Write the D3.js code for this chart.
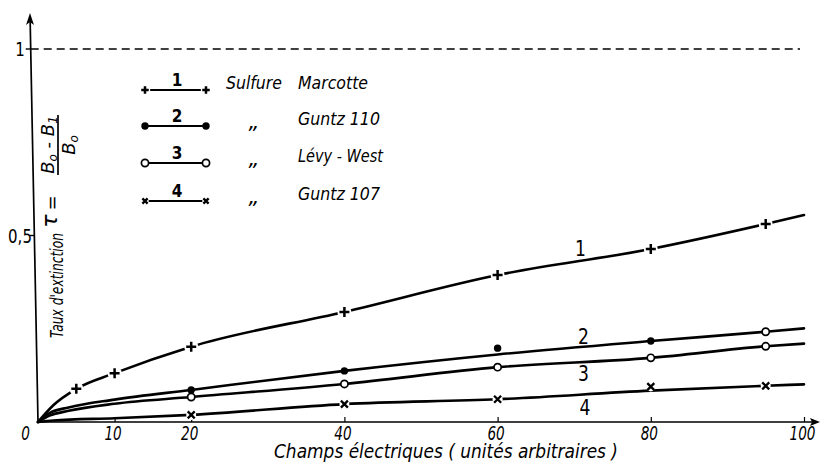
<!DOCTYPE html>
<html>
<head>
<meta charset="utf-8">
<script src="https://cdn.jsdelivr.net/npm/d3@7"></script>
<style>
  html, body { margin: 0; padding: 0; background: #fff; }
  svg { display: block; }
  text { fill: #000; font-family: "DejaVu Sans", sans-serif; }
</style>
</head>
<body>
<svg id="chart" width="824" height="462"></svg>
<script>
// ---- data ----
const xTicks = [0, 10, 20, 40, 60, 80, 100];
const yTicks = [0.5, 1];
const yTickLabels = ["0,5", "1"];

// drawn curves (x in arbitrary units, y = extinction rate)
const curve1X = [0, 2, 5, 10, 20, 40, 60, 80, 95, 100];
const curve1Y = [0, 0.045, 0.089, 0.131, 0.202, 0.295, 0.394, 0.464, 0.531, 0.555];
const curve2X = [0, 1.5, 4, 10, 20, 40, 60, 80, 95, 100];
const curve2Y = [0, 0.024, 0.039, 0.060, 0.086, 0.137, 0.181, 0.217, 0.242, 0.251];
const curve3X = [0, 1.5, 4, 10, 20, 40, 60, 80, 95, 100];
const curve3Y = [0, 0.017, 0.030, 0.049, 0.067, 0.102, 0.147, 0.172, 0.203, 0.210];
const curve4X = [0, 2, 10, 20, 40, 60, 80, 95, 100];
const curve4Y = [0, 0.004, 0.010, 0.019, 0.048, 0.061, 0.084, 0.097, 0.101];

// measured points
const pts1X = [5, 10, 20, 40, 60, 80, 95];
const pts1Y = [0.089, 0.131, 0.202, 0.295, 0.394, 0.464, 0.531];
const pts2X = [20, 40, 60, 80, 95];
const pts2Y = [0.086, 0.137, 0.198, 0.217, 0.242];
const pts2Shape = ["dot", "dot", "dot", "dot", "circle"];
const pts3X = [20, 40, 60, 80, 95];
const pts3Y = [0.067, 0.102, 0.147, 0.172, 0.203];
const pts4X = [20, 40, 60, 80, 95];
const pts4Y = [0.019, 0.048, 0.061, 0.095, 0.097];

const curveLabels = ["1", "2", "3", "4"];
const curveLabelX = [70.8, 71.2, 71.2, 71.4];
const curveLabelY = [0.466, 0.231, 0.131, 0.040];

const legendNums = ["1", "2", "3", "4"];
const legendShapes = ["plus", "dot", "circle", "cross"];
const legendDitto = ["", "„", "„", "„"];
const legendFirst = ["Sulfure", "", "", ""];
const legendNames = ["Marcotte", "Guntz  110", "Lévy - West", "Guntz  107"];

const xTitle = "Champs électriques  ( unités arbitraires )";
const yTitle = "Taux  d'extinction";

// ---- drawing ----
const svg = d3.select("#chart");
const x = d3.scaleLinear().domain([0, 100]).range([38, 804]);
const y = d3.scaleLinear().domain([0, 1]).range([422, 49]);

function label(parent, str, o) {
  const t = parent.append("text")
    .attr("transform", `translate(${o.x},${o.y}) rotate(${o.r || 0}) scale(${o.sx || 1},1)`)
    .attr("font-size", o.size || 17)
    .attr("text-anchor", o.anchor || "start")
    .text(str);
  if (o.italic) t.attr("font-style", "italic");
  if (o.bold) t.attr("font-weight", "bold");
  if (o.len) t.attr("textLength", o.len).attr("lengthAdjust", "spacingAndGlyphs");
  return t;
}

function marker(g, shape, cx, cy, s) {
  s = s || 1;
  if (shape === "plus") {
    g.append("circle").attr("cx", cx).attr("cy", cy).attr("r", 7 * s).attr("fill", "#fff");
    g.append("path").attr("d", `M${cx - 5 * s},${cy}H${cx + 5 * s}M${cx},${cy - 5 * s}V${cy + 5 * s}`)
      .attr("stroke", "#000").attr("stroke-width", 2.5);
  } else if (shape === "cross") {
    g.append("circle").attr("cx", cx).attr("cy", cy).attr("r", 5 * s).attr("fill", "#fff");
    g.append("path").attr("d", `M${cx - 3.5 * s},${cy - 3.5 * s}L${cx + 3.5 * s},${cy + 3.5 * s}M${cx - 3.5 * s},${cy + 3.5 * s}L${cx + 3.5 * s},${cy - 3.5 * s}`)
      .attr("stroke", "#000").attr("stroke-width", 2.3);
  } else if (shape === "dot") {
    g.append("circle").attr("cx", cx).attr("cy", cy).attr("r", 3.7).attr("fill", "#000");
  } else if (shape === "circle") {
    g.append("circle").attr("cx", cx).attr("cy", cy).attr("r", 3.6)
      .attr("fill", "#fff").attr("stroke", "#000").attr("stroke-width", 1.7);
  }
}

// y axis geometry (slightly slanted, as in the print)
const topY = 13, lean = 8;
const axX = v => x(0) - lean * (y(0) - v) / (y(0) - topY);

// dashed line at 1
svg.append("line")
  .attr("x1", axX(y(1))).attr("x2", x(100) - 4)
  .attr("y1", y(1)).attr("y2", y(1))
  .attr("stroke", "#000").attr("stroke-width", 1.5)
  .attr("stroke-dasharray", "8,5");

// x axis
const xAxis = d3.axisBottom(x).tickValues(xTicks).tickSizeInner(-5).tickSizeOuter(0).tickPadding(8)
  .tickFormat(d => d3.format("d")(d));
const gx = svg.append("g").attr("transform", `translate(0,${y(0)})`).call(xAxis);
gx.select(".domain").remove();
gx.attr("font-family", null).attr("font-size", null);
gx.selectAll(".tick line").attr("stroke", "#000").attr("stroke-width", 1.2)
  .filter(d => d === 0).remove();
gx.selectAll(".tick text")
  .attr("y", null).attr("dy", null).attr("x", null)
  .attr("font-size", 20).attr("font-style", "italic").attr("fill", "#000")
  .attr("transform", d => `translate(${d === 0 ? -13 : -2},18) scale(0.68,1)`);
svg.append("line").attr("x1", x(0)).attr("x2", x(100) + 10)
  .attr("y1", y(0)).attr("y2", y(0)).attr("stroke", "#000").attr("stroke-width", 1.7);
svg.append("path")
  .attr("d", `M${x(100) + 16},${y(0)}L${x(100) + 6},${y(0) - 4}L${x(100) + 8},${y(0)}L${x(100) + 6},${y(0) + 4}Z`)
  .attr("fill", "#000");

// y axis
svg.append("line").attr("x1", x(0)).attr("y1", y(0)).attr("x2", axX(topY + 8)).attr("y2", topY + 8)
  .attr("stroke", "#000").attr("stroke-width", 1.7);
svg.append("path")
  .attr("d", `M${axX(topY)},${topY}L${axX(topY) - 4},${topY + 12}L${axX(topY)},${topY + 9}L${axX(topY) + 4},${topY + 12}Z`)
  .attr("fill", "#000");
yTicks.forEach((t, i) => {
  const py = y(t);
  svg.append("line").attr("x1", axX(py) - 5).attr("x2", axX(py)).attr("y1", py).attr("y2", py)
    .attr("stroke", "#000").attr("stroke-width", 1.4);
  label(svg, yTickLabels[i], { x: 20, y: py + 7, size: 20, sx: 0.75, anchor: "middle" });
});

// curves
const line = d3.line().x(d => x(d[0])).y(d => y(d[1])).curve(d3.curveMonotoneX);
const curves = [[curve1X, curve1Y], [curve2X, curve2Y], [curve3X, curve3Y], [curve4X, curve4Y]];
curves.forEach(([cx, cy]) => {
  svg.append("path").datum(d3.zip(cx, cy)).attr("d", line)
    .attr("fill", "none").attr("stroke", "#000").attr("stroke-width", 2.6)
    .attr("stroke-linejoin", "round").attr("stroke-linecap", "round");
});

const gm = svg.append("g");
pts1X.forEach((v, i) => marker(gm, "plus", x(v), y(pts1Y[i])));
pts4X.forEach((v, i) => marker(gm, "cross", x(v), y(pts4Y[i])));
pts3X.forEach((v, i) => marker(gm, "circle", x(v), y(pts3Y[i])));
pts2X.forEach((v, i) => marker(gm, pts2Shape[i], x(v), y(pts2Y[i])));

// curve labels
curveLabels.forEach((t, i) => {
  label(svg, t, { x: x(curveLabelX[i]), y: y(curveLabelY[i]) + 8, size: 22, sx: 0.78, anchor: "middle" });
});

// legend
const legY = [90, 126, 163, 201];
const legNameLen = [70, 82, 85, 82];
legendNums.forEach((n, i) => {
  const g = svg.append("g");
  const ly = legY[i];
  g.append("line").attr("x1", 147).attr("x2", 204).attr("y1", ly).attr("y2", ly)
    .attr("stroke", "#000").attr("stroke-width", 2.2);
  marker(g, legendShapes[i], 145, ly, 0.75);
  marker(g, legendShapes[i], 206, ly, 0.75);
  label(g, n, { x: 177, y: ly - 4, size: 18, sx: 0.85, anchor: "middle", bold: true });
  if (legendFirst[i]) {
    label(g, legendFirst[i], { x: 226, y: ly - 1, size: 18, italic: true, len: 56 });
  }
  if (legendDitto[i]) {
    label(g, legendDitto[i], { x: 254, y: ly + 3, size: 21, italic: true, anchor: "middle" });
  }
  label(g, legendNames[i], { x: 298, y: ly - 1, size: 18, italic: true, len: legNameLen[i] });
});

// axis titles
label(svg, xTitle, { x: 274, y: 458, size: 19, italic: true, len: 344 });
label(svg, yTitle, { x: 63, y: 338, r: -90, size: 17.5, italic: true, len: 105 });

// tau = fraction
label(svg, "τ", { x: 57, y: 221, r: -90, size: 22, italic: true, anchor: "middle" });
label(svg, "=", { x: 58, y: 203, r: -90, size: 18, anchor: "middle" });
const frac = svg.append("g").attr("transform", "translate(58,145) rotate(-90)");
frac.append("line").attr("x1", -30).attr("x2", 30).attr("y1", 0).attr("y2", 0)
  .attr("stroke", "#000").attr("stroke-width", 1.7);
const num = frac.append("text").attr("x", 0).attr("y", -4).attr("text-anchor", "middle")
  .attr("font-size", 18).attr("font-style", "italic");
num.append("tspan").text("B");
num.append("tspan").attr("font-size", 12).attr("dy", 3).text("o");
num.append("tspan").attr("dy", -3).text(" - B");
num.append("tspan").attr("font-size", 12).attr("dy", 3).text("1");
const den = frac.append("text").attr("x", 0).attr("y", 17).attr("text-anchor", "middle")
  .attr("font-size", 18).attr("font-style", "italic");
den.append("tspan").text("B");
den.append("tspan").attr("font-size", 12).attr("dy", 3).text("o");
</script>
</body>
</html>
